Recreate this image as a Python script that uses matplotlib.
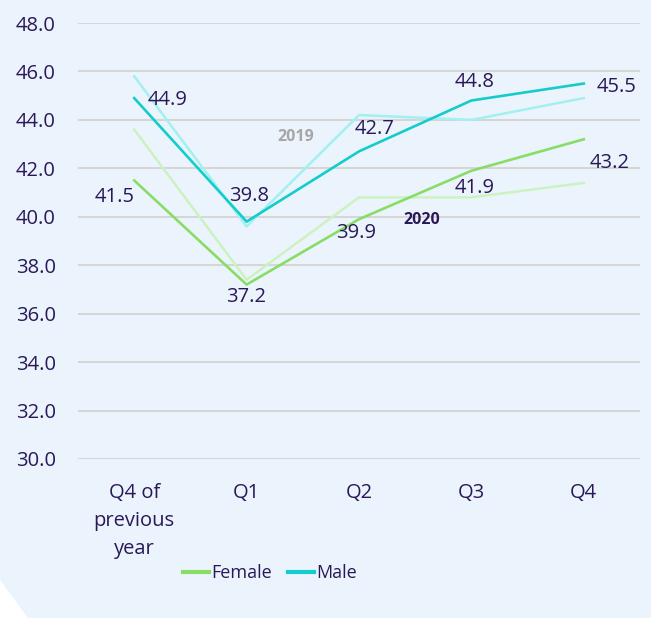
import matplotlib
matplotlib.use("Agg")
import matplotlib.pyplot as plt
from matplotlib.patches import Polygon

plt.rcParams['font.family'] = ['Open Sans', 'DejaVu Sans']

categories = ["Q4 of\nprevious\nyear", "Q1", "Q2", "Q3", "Q4"]
female_2020 = [41.5, 37.2, 39.9, 41.9, 43.2]
male_2020 = [44.9, 39.8, 42.7, 44.8, 45.5]
female_2019 = [43.6, 37.4, 40.8, 40.8, 41.4]
male_2019 = [45.8, 39.6, 44.2, 44.0, 44.9]
yticks = [30, 32, 34, 36, 38, 40, 42, 44, 46, 48]

BG = '#EBF4FC'
TXT = '#2A1858'
C_M20 = '#14CCCC'
C_M19 = '#A3F0F0'
C_F20 = '#88DD66'
C_F19 = '#CDF2C2'

FS = 14.5

fig = plt.figure(figsize=(6.51, 6.18), dpi=100, facecolor=BG)
fig.patches.append(Polygon([[0, 0.0615], [0.043, 0], [0, 0]], closed=True,
                           transform=fig.transFigure, facecolor='white',
                           edgecolor='none', zorder=0))
ax = fig.add_axes([78/651, 1-459/618, (640-78)/651, (459-23)/618])
ax.set_facecolor(BG)
x = list(range(len(categories)))

ax.plot(x, male_2019, color=C_M19, lw=1.8, zorder=3)
ax.plot(x, female_2019, color=C_F19, lw=1.8, zorder=3)
ax.plot(x, female_2020, color=C_F20, lw=1.9, zorder=4, label='Female')
ax.plot(x, male_2020, color=C_M20, lw=1.9, zorder=4, label='Male')

ax.set_xlim(-0.5, 4.5)
ax.set_ylim(30, 48)
ax.set_yticks(yticks)
ax.set_yticklabels([f"{v:.1f}" for v in yticks])
ax.set_xticks(x)
ax.set_xticklabels(categories, linespacing=1.55)
ax.tick_params(axis='y', length=0, pad=16, labelsize=FS, labelcolor=TXT)
ax.tick_params(axis='x', length=0, pad=17, labelsize=FS, labelcolor=TXT)
ax.yaxis.grid(True, color='#D6D6D6', lw=1.5)
ax.set_axisbelow(True)
for s in ax.spines.values():
    s.set_visible(False)

# label offsets in pixels (dx, dy) and alignment
male_off = [(13, -2, 'left'), (2, 26, 'center'), (16, 22, 'center'),
            (3, 19, 'center'), (13, -3, 'left')]
female_off = [(-19.5, -16.5, 'center'), (-1, -12, 'center'), (-3, -14, 'center'),
              (3, -17, 'center'), (26, -23.5, 'center')]
k = 0.72
for xi, v, (dx, dy, ha) in zip(x, male_2020, male_off):
    ax.annotate(f"{v:.1f}", (xi, v), xytext=(dx*k, dy*k), textcoords='offset points',
                ha=ha, va='center', fontsize=FS, color=TXT, zorder=6)
for xi, v, (dx, dy, ha) in zip(x, female_2020, female_off):
    ax.annotate(f"{v:.1f}", (xi, v), xytext=(dx*k, dy*k), textcoords='offset points',
                ha=ha, va='center', fontsize=FS, color=TXT, zorder=6)

ax.text(1.44, 43.3, "2019", fontsize=11.5, fontweight='bold', color='#A6A6A6',
        ha='center', va='center')
ax.text(2.56, 39.87, "2020", fontsize=11.5, fontweight='bold', color=TXT,
        ha='center', va='center')

leg = fig.legend(loc='center', bbox_to_anchor=(270/651, 1-573/618), ncol=2,
                 frameon=False, fontsize=13, handlelength=1.45, handletextpad=0.15,
                 columnspacing=0.85, labelcolor=TXT)
for line in leg.get_lines():
    line.set_linewidth(3)

fig.savefig("out.png", dpi=100, facecolor=BG)
